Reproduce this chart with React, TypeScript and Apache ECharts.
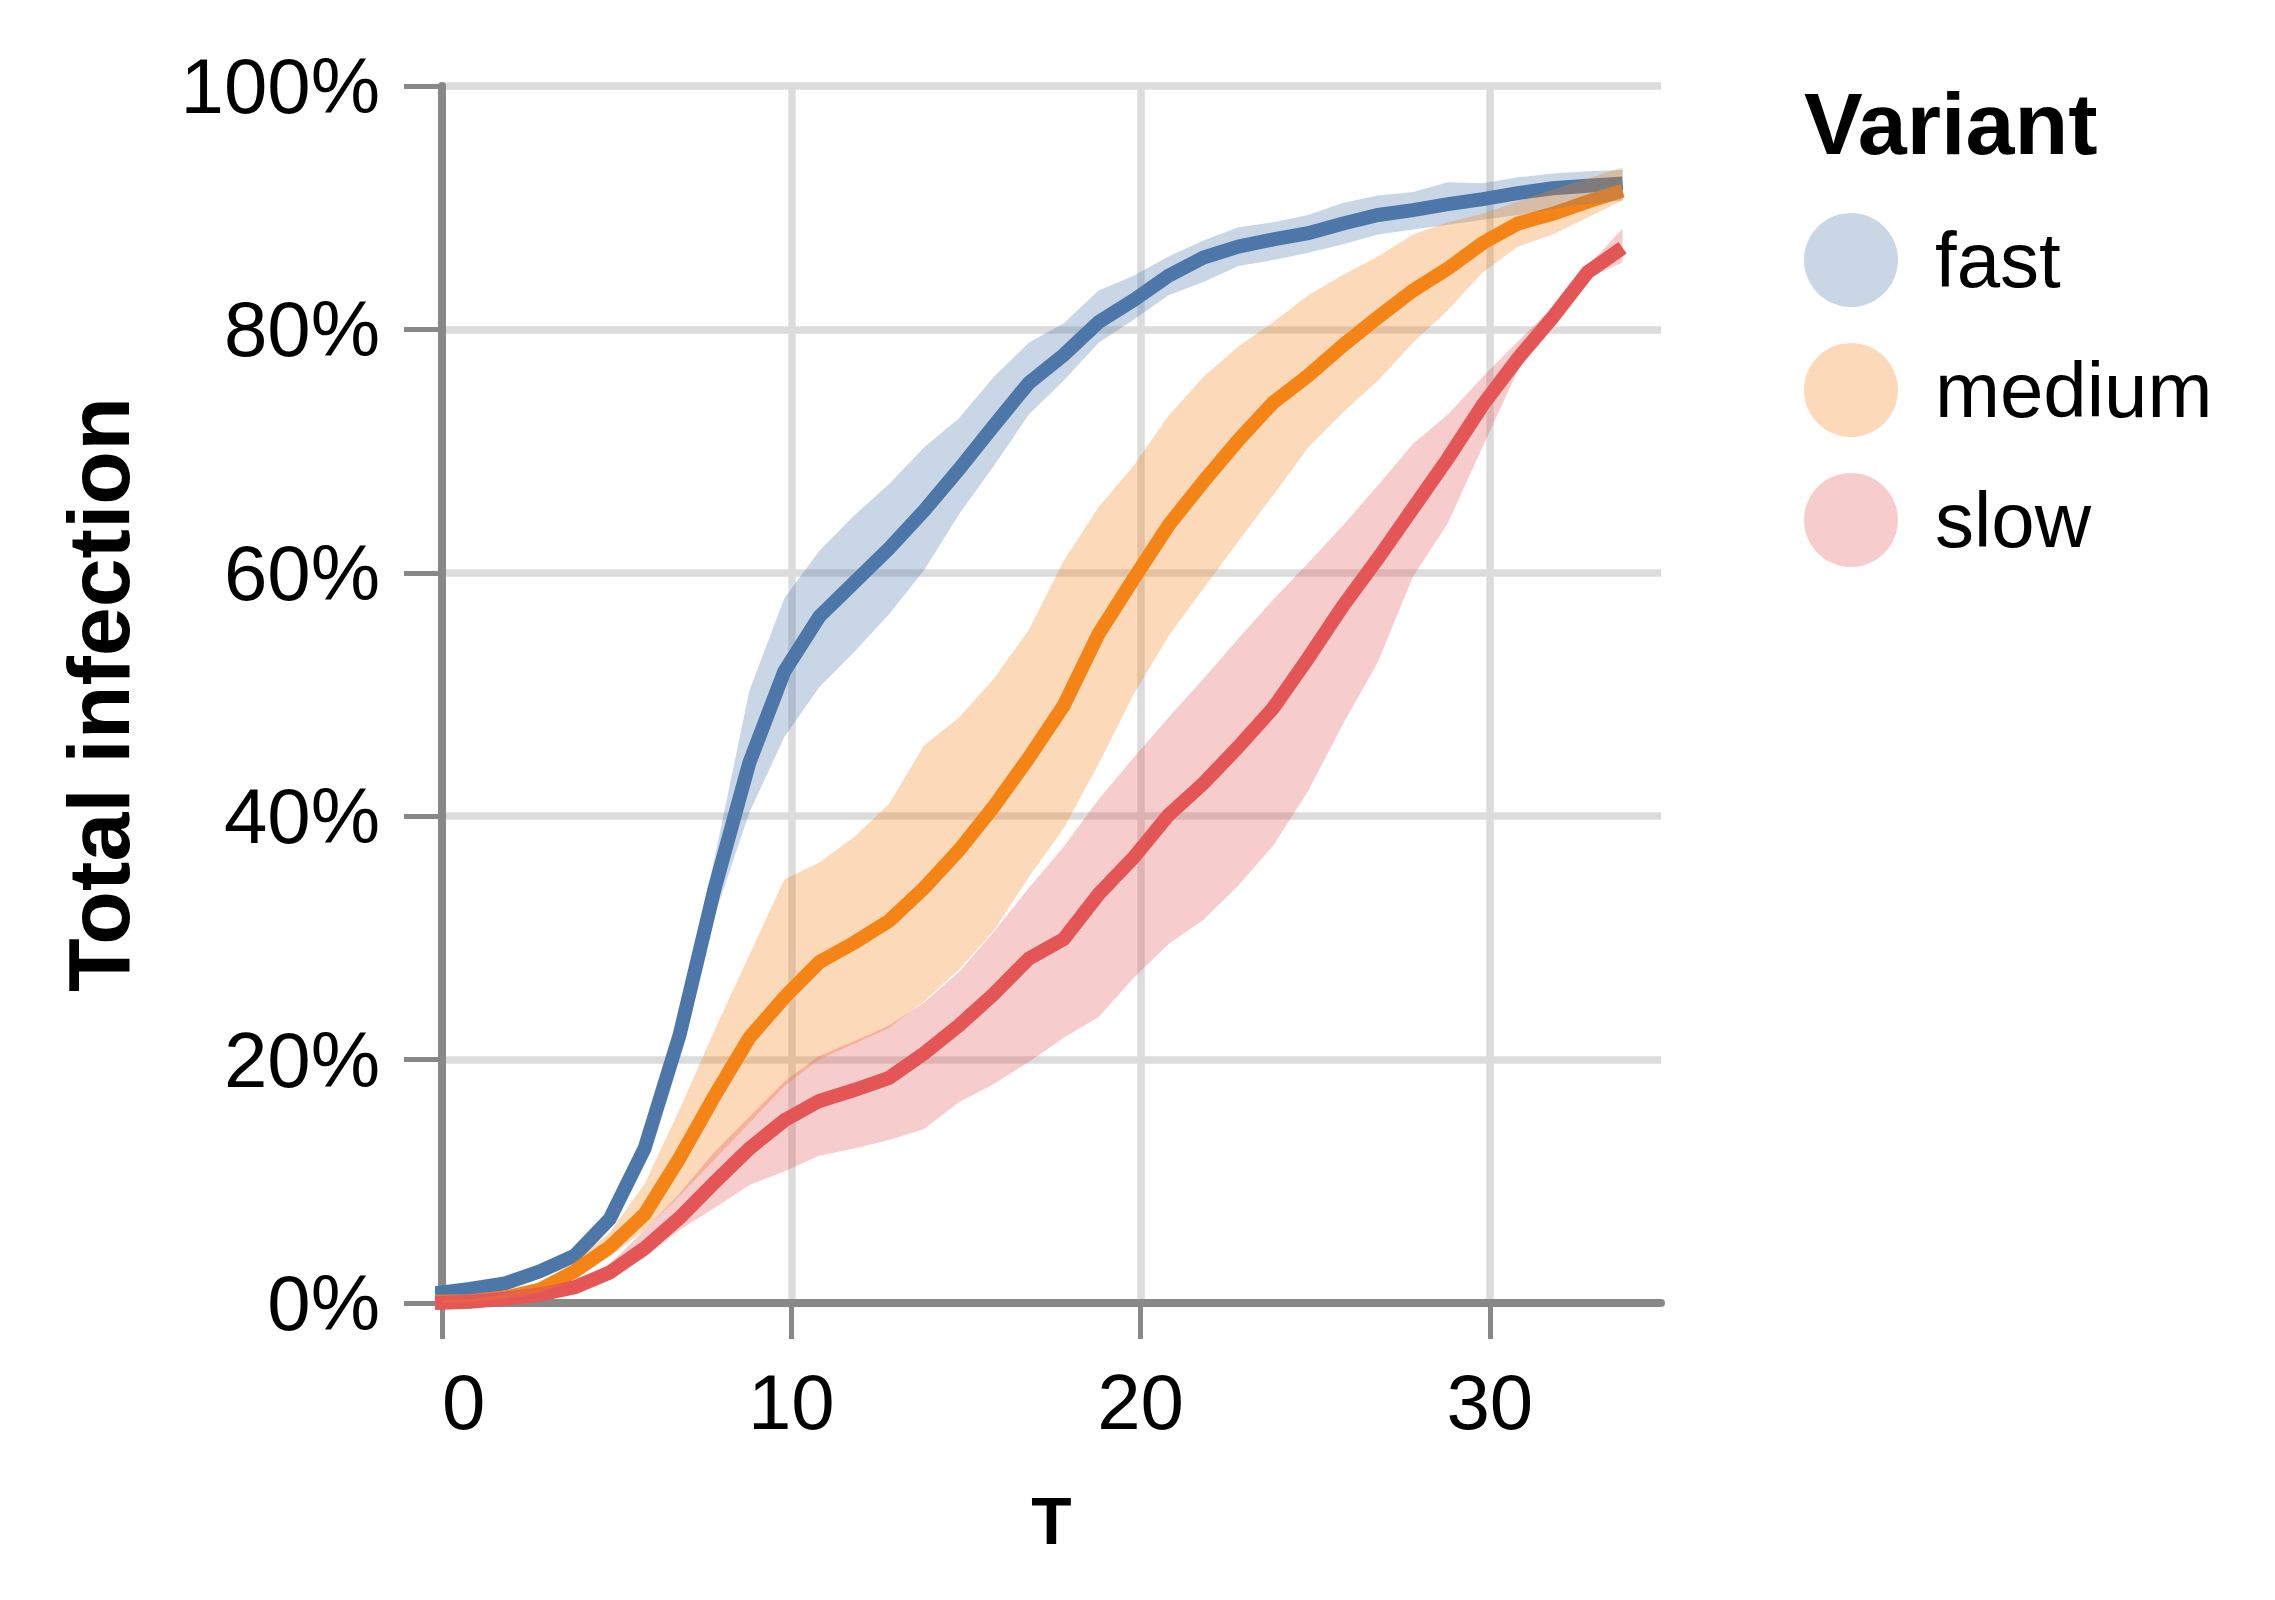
import React, { useEffect, useRef } from "react";
import * as echarts from "echarts";

// Time steps (x positions of the sampled points)
const T = [
  -0.2, 0.8, 1.8, 2.8, 3.8, 4.8, 5.8, 6.8, 7.8, 8.8,
  9.8, 10.8, 11.8, 12.8, 13.8, 14.8, 15.8, 16.8, 17.8, 18.8,
  19.8, 20.8, 21.8, 22.8, 23.8, 24.8, 25.8, 26.8, 27.8, 28.8,
  29.8, 30.8, 31.8, 32.8, 33.8,
];

const VARIANTS = ["fast", "medium", "slow"];

// Total infection (%) — mean, lower and upper band
const fastMean = [
  0.8, 1.15, 1.6, 2.6, 3.9, 6.9, 12.7, 22.0, 34.0, 44.4,
  51.9, 56.4, 59.2, 62.0, 65.1, 68.5, 72.1, 75.6, 77.9, 80.6,
  82.4, 84.4, 85.9, 86.8, 87.4, 87.9, 88.7, 89.4, 89.8, 90.3,
  90.7, 91.2, 91.6, 91.8, 92.0,
];
const fastLow = [
  0.6, 0.95, 1.35, 2.3, 3.5, 6.2, 11.7, 20.5, 31.8, 40.3,
  46.5, 50.6, 53.5, 56.6, 60.2, 64.8, 68.8, 73.0, 75.8, 78.9,
  80.8, 82.8, 83.9, 85.2, 85.7, 86.3, 87.0, 87.8, 88.2, 88.6,
  89.0, 89.4, 89.9, 90.3, 90.6,
];
const fastHigh = [
  1.0, 1.35, 1.85, 2.9, 4.3, 7.6, 13.6, 23.5, 36.5, 50.3,
  57.9, 61.8, 64.7, 67.3, 70.3, 72.7, 76.1, 78.9, 80.5, 83.2,
  84.4, 86.0, 87.3, 88.4, 88.8, 89.4, 90.4, 91.0, 91.3, 92.1,
  92.0, 92.5, 92.8, 93.0, 93.1,
];

const mediumMean = [
  0.1, 0.15, 0.45, 1.1, 2.6, 4.6, 7.3, 11.9, 17.0, 21.8,
  25.1, 28.0, 29.6, 31.4, 34.1, 37.2, 40.8, 44.8, 49.1, 55.0,
  59.5, 63.9, 67.5, 70.9, 74.0, 76.2, 78.7, 81.0, 83.2, 85.0,
  87.1, 88.7, 89.5, 90.5, 91.4,
];
const mediumLow = [
  0.0, 0.05, 0.3, 0.8, 2.0, 3.8, 6.0, 8.8, 11.8, 14.8,
  17.8, 20.0, 21.3, 22.6, 24.8, 27.4, 30.6, 35.0, 39.0, 44.3,
  50.0, 54.8, 58.7, 62.6, 66.4, 70.3, 73.2, 75.8, 78.9, 81.6,
  84.7, 86.8, 87.8, 89.2, 90.6,
];
const mediumHigh = [
  0.2, 0.3, 0.7, 1.5, 3.4, 5.8, 9.8, 15.9, 22.4, 28.6,
  34.8, 36.2, 38.3, 41.0, 45.8, 48.1, 51.3, 55.3, 61.0, 65.4,
  68.8, 72.9, 76.1, 78.6, 80.6, 82.8, 84.5, 86.0, 87.8, 88.8,
  89.5, 90.5, 91.5, 92.4, 93.3,
];

const slowMean = [
  0.0, 0.1, 0.35, 0.7, 1.3, 2.5, 4.5, 7.0, 9.9, 12.7,
  15.0, 16.6, 17.5, 18.5, 20.5, 22.8, 25.4, 28.3, 29.9, 33.6,
  36.6, 40.1, 42.7, 45.7, 48.9, 53.0, 57.3, 61.2, 65.3, 69.4,
  73.8, 77.6, 81.0, 84.7, 86.7,
];
const slowLow = [
  0.0, 0.05, 0.25, 0.55, 1.0, 2.1, 3.7, 6.0, 7.8, 9.7,
  10.8, 12.1, 12.7, 13.4, 14.3, 16.5, 18.0, 19.8, 21.8, 23.5,
  26.7, 29.5, 31.5, 34.3, 37.6, 42.1, 47.6, 52.7, 59.7, 64.1,
  70.4, 76.6, 81.0, 84.2, 85.5,
];
const slowHigh = [
  0.05, 0.15, 0.45, 0.9, 1.6, 3.2, 6.0, 9.0, 12.4, 15.3,
  18.2, 20.3, 21.5, 22.8, 24.7, 27.2, 30.5, 34.1, 37.5, 41.4,
  44.8, 48.1, 51.3, 54.6, 57.8, 60.8, 63.9, 67.2, 70.6, 73.0,
  76.1, 79.0, 81.8, 85.2, 88.3,
];

const X_TICKS = [0, 10, 20, 30];

const LINE_COLORS = ["#4c78a8", "#f58518", "#e45756"];
const BAND_COLORS = [
  "rgba(76,120,168,0.3)",
  "rgba(245,133,24,0.3)",
  "rgba(228,87,86,0.3)",
];

const FONT = "'Liberation Sans', Arial, Helvetica, sans-serif";

export default function App() {
  const ref = useRef<HTMLDivElement>(null);

  useEffect(() => {
    if (!ref.current) return;
    document.body.style.margin = "0";
    const chart = echarts.init(ref.current, null, { renderer: "svg" });

    const means = [fastMean, mediumMean, slowMean];
    const lows = [fastLow, mediumLow, slowLow];
    const highs = [fastHigh, mediumHigh, slowHigh];

    const lineSeries = VARIANTS.map((name, k) => ({
      type: "line",
      name,
      data: T.map((t, i) => [t, means[k][i]]),
      symbol: "none",
      silent: true,
      clip: true,
      z: 2,
      lineStyle: { color: LINE_COLORS[k], width: 14, cap: "butt", join: "miter" },
      itemStyle: { color: LINE_COLORS[k] },
    }));

    const bandSeries = VARIANTS.map((name, k) => ({
      type: "custom",
      name,
      coordinateSystem: "cartesian2d",
      data: T.map((t, i) => [t, lows[k][i], highs[k][i]]),
      encode: { x: 0, y: [1, 2] },
      clip: true,
      silent: true,
      z: 3,
      itemStyle: { color: BAND_COLORS[k] },
      renderItem: (params: any, api: any) => {
        if (params.dataIndex !== 0) return null;
        const n = T.length;
        const upper: number[][] = [];
        const lower: number[][] = [];
        for (let i = 0; i < n; i++) {
          upper.push(api.coord([api.value(0, i), api.value(2, i)]));
          lower.push(api.coord([api.value(0, i), api.value(1, i)]));
        }
        return {
          type: "polygon",
          shape: { points: upper.concat(lower.reverse()) },
          style: { fill: BAND_COLORS[k], stroke: "none" },
        };
      },
    }));

    const option: any = {
      animation: false,
      backgroundColor: "#ffffff",
      textStyle: { fontFamily: FONT },
      title: {
        text: "Variant",
        left: 1804,
        top: 79,
        padding: 0,
        textStyle: { fontSize: 88, fontWeight: "bold", color: "#000", fontFamily: FONT },
      },
      legend: {
        orient: "vertical",
        left: 1804,
        top: 213,
        padding: 0,
        itemWidth: 94,
        itemHeight: 94,
        itemGap: 36,
        icon: "circle",
        selectedMode: false,
        data: VARIANTS.map((name, k) => ({
          name,
          icon: "circle",
          itemStyle: { color: BAND_COLORS[k], borderWidth: 0 },
        })),
        textStyle: {
          fontSize: 78,
          color: "#000",
          fontFamily: FONT,
          lineHeight: 78,
          padding: [0, 0, 0, 32],
        },
      },
      grid: { left: 442, right: 614, top: 86, bottom: 297, containLabel: false },
      xAxis: {
        type: "value",
        min: 0,
        max: 34.9,
        interval: 10,
        name: "T",
        nameLocation: "middle",
        nameGap: 185,
        nameTextStyle: { fontSize: 66, fontWeight: "bold", color: "#000", fontFamily: FONT },
        axisLine: { show: true, onZero: false, lineStyle: { color: "#888888", width: 8 } },
        axisTick: { show: true, length: 36, customValues: X_TICKS, lineStyle: { color: "#888888", width: 5 } },
        axisLabel: {
          customValues: X_TICKS,
          fontSize: 78,
          color: "#000",
          margin: 60,
          fontFamily: FONT,
          alignMinLabel: "left",
        },
        splitLine: { show: true, lineStyle: { color: "#dcdcdc", width: 7.5 } },
      },
      yAxis: {
        type: "value",
        min: 0,
        max: 100,
        interval: 20,
        name: "Total infection",
        nameLocation: "middle",
        nameRotate: 90,
        nameGap: 300,
        nameTextStyle: { fontSize: 88, fontWeight: "bold", color: "#000", fontFamily: FONT },
        axisLine: { show: true, onZero: false, lineStyle: { color: "#888888", width: 8 } },
        axisTick: { show: true, length: 38, lineStyle: { color: "#888888", width: 5 } },
        axisLabel: { formatter: "{value}%", fontSize: 78, color: "#000", margin: 62, fontFamily: FONT },
        splitLine: { show: true, lineStyle: { color: "#dcdcdc", width: 7.5 } },
      },
      series: [...lineSeries, ...bandSeries],
    };

    chart.setOption(option);
    return () => chart.dispose();
  }, []);

  return (
    <div
      ref={ref}
      style={{ position: "absolute", left: 0, top: 0, width: "2275px", height: "1600px", background: "#fff" }}
    />
  );
}
